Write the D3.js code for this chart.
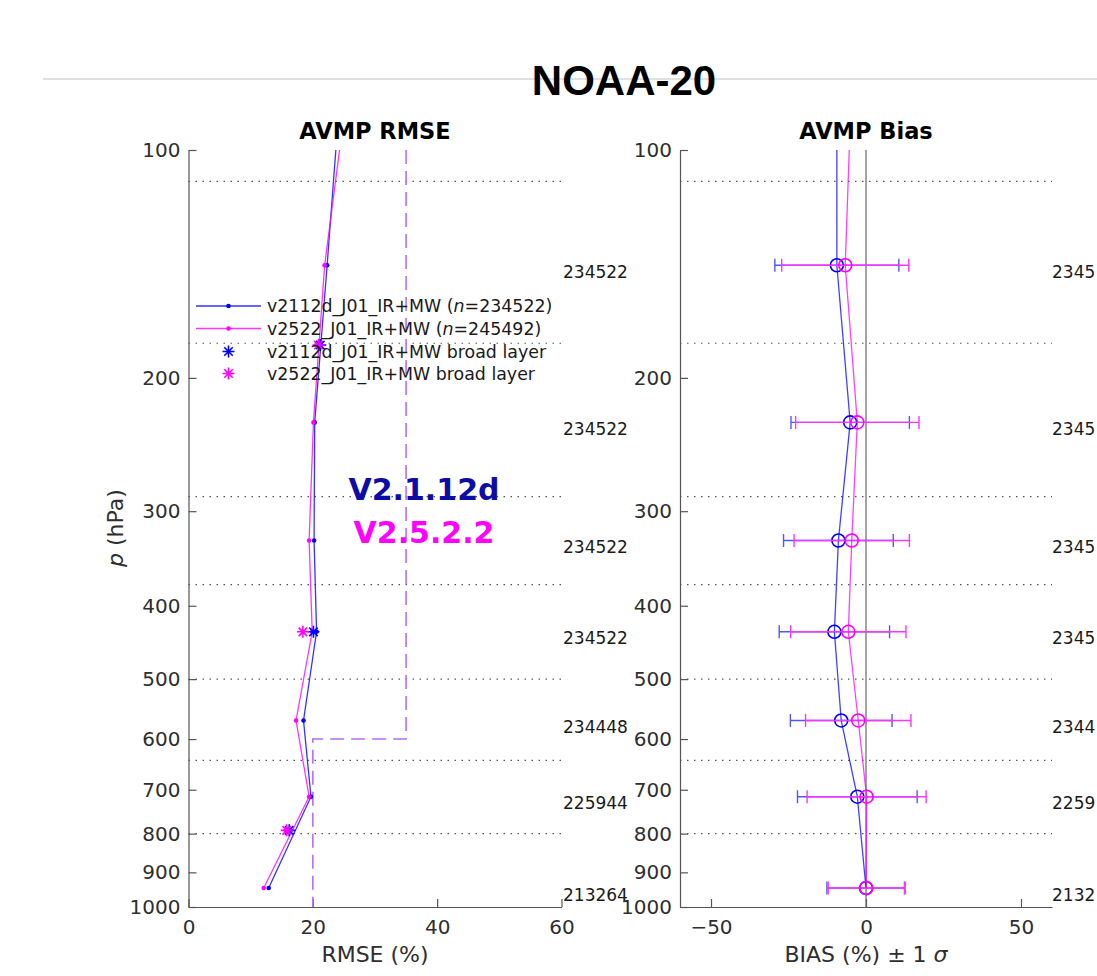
<!DOCTYPE html>
<html>
<head>
<meta charset="utf-8">
<script src="https://cdn.jsdelivr.net/npm/d3@7"></script>
<style>
  body { margin: 0; background: #fff; }
  svg { display: block; overflow: hidden; }
  .tick text { font-family: "DejaVu Sans", sans-serif; font-size: 20px; fill: #2e2e2e; }
  .tick line, .domain { stroke: #555; stroke-width: 1.2; }
</style>
</head>
<body>
<script>
//dims
const width = 1097, height = 976;

//layer centre pressures (hPa); first entry is the top of the drawn line, no marker there
const levels = [100, 142, 229, 328, 433, 567, 715, 944];
//rmse (%)
const rmseBlue = [23.7, 22.3, 20.3, 20.2, 20.6, 18.5, 19.7, 12.9];
const rmsePink = [24.3, 21.9, 20.1, 19.4, 19.9, 17.3, 19.4, 12.1];
//broad layer stars
const broadLevels = [181, 433, 792];
const broadBlue = [21.2, 20.1, 16.2];
const broadPink = [20.9, 18.4, 15.8];
//bias (%) and 1 sigma, right panel
const biasBlue = [-9.4, -9.4, -5.1, -8.9, -10.2, -8.0, -2.8, 0.0];
const biasPink = [-5.4, -6.7, -2.8, -4.6, -5.7, -2.5, 0.2, 0.1];
const sigmaBlue = [null, 20.0, 19.1, 17.7, 17.8, 16.4, 19.3, 12.6];
const sigmaPink = [null, 20.5, 19.9, 18.6, 18.6, 17.0, 19.2, 12.3];
//sample counts per layer (left panel) and the part of them visible at the right edge
const counts = [null, 234522, 234522, 234522, 234522, 234448, 225944, 213264];
const countsRight = [null, '2345', '2345', '2345', '2345', '2344', '2259', '2132'];
//layer boundaries (dotted lines)
const bounds = [110, 180, 287, 375, 500, 640, 800];
//requirement line (rmse, p)
const specLine = [[35, 100], [35, 600], [20, 600], [20, 1000]];
//ticks
const pTicks = [100, 200, 300, 400, 500, 600, 700, 800, 900, 1000];
const rmseTicks = [0, 20, 40, 60];
const biasTicks = [-50, 0, 50];
//legend
const legendNames = ['v2112d_J01_IR+MW', 'v2522_J01_IR+MW', 'v2112d_J01_IR+MW broad layer', 'v2522_J01_IR+MW broad layer'];
const legendN = [234522, 245492];

const BLUE = '#0000ff', PINK = '#ff00ff';

const svg = d3.select('body').append('svg')
    .attr('width', width)
    .attr('height', height);

//scales
const y = d3.scaleLog().domain([100, 1000]).range([150, 907]);
const xR = d3.scaleLinear().domain([0, 60]).range([188.5, 561.5]);
const xB = d3.scaleLinear().domain([-60, 60]).range([680, 1052]);

//slide style header
svg.append('line')
    .attr('x1', 43).attr('x2', width).attr('y1', 79).attr('y2', 79)
    .attr('stroke', '#c4c4c4').attr('stroke-width', 1.2);
svg.append('text')
    .attr('x', 624).attr('y', 95)
    .attr('text-anchor', 'middle')
    .style('font-family', '"Liberation Sans", Arial, sans-serif')
    .style('font-weight', 'bold').style('font-size', '42px')
    .text('NOAA-20');

// star marker (plus + cross)
function star(g, cx, cy, r, col) {
  const d = r * Math.SQRT1_2;
  g.append('path')
    .attr('d', `M${cx - r},${cy}H${cx + r}M${cx},${cy - r}V${cy + r}M${cx - d},${cy - d}L${cx + d},${cy + d}M${cx - d},${cy + d}L${cx + d},${cy - d}`)
    .attr('stroke', col).attr('stroke-width', 1.6).attr('fill', 'none');
}

//common panel furniture
function panel(x, title, ticks, fmt) {
  const g = svg.append('g');
  const [x0, x1] = x.range();
  //dotted layer boundaries
  g.selectAll('.bound').data(bounds).enter().append('line')
      .attr('x1', x0).attr('x2', x1)
      .attr('y1', d => y(d)).attr('y2', d => y(d))
      .attr('stroke', '#555').attr('stroke-width', 1.2)
      .attr('stroke-dasharray', '1.5,5.5');
  //axes, inward ticks like matlab
  g.append('g')
      .attr('transform', `translate(${x0},0)`)
      .call(d3.axisLeft(y).tickValues(pTicks).tickFormat(d3.format('d')).tickSize(-8).tickSizeOuter(0).tickPadding(8));
  g.append('g')
      .attr('transform', `translate(0,${y(1000)})`)
      .call(d3.axisBottom(x).tickValues(ticks).tickFormat(fmt).tickSize(-8).tickSizeOuter(0).tickPadding(13));
  g.append('text')
      .attr('x', (x0 + x1) / 2).attr('y', 139)
      .attr('text-anchor', 'middle')
      .style('font-family', '"DejaVu Sans", sans-serif')
      .style('font-weight', 'bold').style('font-size', '22.5px')
      .text(title);
  return g;
}

//---------------- RMSE panel
const gR = panel(xR, 'AVMP RMSE', rmseTicks, d3.format('d'));

gR.append('path')
    .datum(specLine)
    .attr('d', d3.line().x(d => xR(d[0])).y(d => y(d[1])))
    .attr('fill', 'none').attr('stroke', '#b46eff').attr('stroke-width', 1.6)
    .attr('stroke-dasharray', '14,7');

[[rmseBlue, BLUE], [rmsePink, PINK]].forEach(([vals, col]) => {
  gR.append('path')
      .datum(levels.map((p, i) => [vals[i], p]))
      .attr('d', d3.line().x(d => xR(d[0])).y(d => y(d[1])))
      .attr('fill', 'none').attr('stroke', col).attr('stroke-width', 1.3).attr('stroke-opacity', 0.8);
  gR.selectAll(null).data(levels.slice(1)).enter().append('circle')
      .attr('cx', (p, i) => xR(vals[i + 1])).attr('cy', p => y(p))
      .attr('r', 2.3).attr('fill', col);
});
[[broadBlue, BLUE], [broadPink, PINK]].forEach(([vals, col]) => {
  broadLevels.forEach((p, i) => star(gR, xR(vals[i]), y(p), 6, col));
});

//counts right of the panel
gR.selectAll('.cnt').data(levels.slice(1)).enter().append('text')
    .attr('x', 563).attr('y', p => y(p) + 12.5)
    .style('font-family', '"DejaVu Sans", sans-serif').style('font-size', '17px').attr('fill', '#1a1a1a')
    .text((p, i) => counts[i + 1]);

//axis labels
svg.append('text')
    .attr('x', 375).attr('y', 962)
    .attr('text-anchor', 'middle')
    .style('font-family', '"DejaVu Sans", sans-serif').style('font-size', '22px').attr('fill', '#2e2e2e')
    .text('RMSE (%)');
const yl = svg.append('text')
    .attr('transform', 'translate(123,528) rotate(-90)')
    .attr('text-anchor', 'middle')
    .style('font-family', '"DejaVu Sans", sans-serif').style('font-size', '22px').attr('fill', '#2e2e2e');
yl.append('tspan').style('font-style', 'italic').text('p');
yl.append('tspan').text(' (hPa)');

//legend
const leg = svg.append('g').style('font-family', '"DejaVu Sans", sans-serif').style('font-size', '17.4px');
const legY = [306, 328.5, 351.5, 373.5];
legendNames.forEach((name, i) => {
  const col = i % 2 === 0 ? BLUE : PINK;
  if (i < 2) {
    leg.append('line').attr('x1', 196).attr('x2', 261).attr('y1', legY[i]).attr('y2', legY[i])
        .attr('stroke', col).attr('stroke-width', 1.3).attr('stroke-opacity', 0.8);
    leg.append('circle').attr('cx', 228.5).attr('cy', legY[i]).attr('r', 2.3).attr('fill', col);
  } else {
    star(leg, 228.5, legY[i], 6, col);
  }
  const t = leg.append('text').attr('x', 267).attr('y', legY[i]).attr('dy', '0.36em').attr('fill', '#1a1a1a');
  if (i < 2) {
    t.append('tspan').text(name + ' (');
    t.append('tspan').style('font-style', 'italic').text('n');
    t.append('tspan').text('=' + legendN[i] + ')');
  } else {
    t.text(name);
  }
});

//version annotation
svg.append('text').attr('x', 424).attr('y', 500).attr('text-anchor', 'middle')
    .style('font-family', '"DejaVu Sans", sans-serif').style('font-weight', 'bold').style('font-size', '30px')
    .attr('fill', '#0c0ca6').text('V2.1.12d');
svg.append('text').attr('x', 424).attr('y', 543).attr('text-anchor', 'middle')
    .style('font-family', '"DejaVu Sans", sans-serif').style('font-weight', 'bold').style('font-size', '30px')
    .attr('fill', PINK).text('V2.5.2.2');

//---------------- Bias panel
const gB = panel(xB, 'AVMP Bias', biasTicks, d3.format('d'));
gB.append('line')
    .attr('x1', xB(0)).attr('x2', xB(0)).attr('y1', y(100)).attr('y2', y(1000))
    .attr('stroke', '#666').attr('stroke-width', 1.2);

[[biasBlue, sigmaBlue, BLUE, '#5555ff'], [biasPink, sigmaPink, PINK, '#ff33ff']].forEach(([vals, sig, col, ecol]) => {
  const pts = levels.slice(1).map((p, i) => ({ p, b: vals[i + 1], s: sig[i + 1] }));
  //error bars
  const eb = gB.selectAll(null).data(pts).enter().append('g')
      .attr('stroke', ecol).attr('stroke-width', 1.4);
  eb.append('line').attr('x1', d => xB(d.b - d.s)).attr('x2', d => xB(d.b + d.s))
      .attr('y1', d => y(d.p)).attr('y2', d => y(d.p));
  eb.append('line').attr('x1', d => xB(d.b - d.s)).attr('x2', d => xB(d.b - d.s))
      .attr('y1', d => y(d.p) - 6.5).attr('y2', d => y(d.p) + 6.5);
  eb.append('line').attr('x1', d => xB(d.b + d.s)).attr('x2', d => xB(d.b + d.s))
      .attr('y1', d => y(d.p) - 6.5).attr('y2', d => y(d.p) + 6.5);
  gB.append('path')
      .datum(levels.map((p, i) => [vals[i], p]))
      .attr('d', d3.line().x(d => xB(d[0])).y(d => y(d[1])))
      .attr('fill', 'none').attr('stroke', col).attr('stroke-width', 1.3).attr('stroke-opacity', 0.75);
  gB.selectAll(null).data(pts).enter().append('circle')
      .attr('cx', d => xB(d.b)).attr('cy', d => y(d.p))
      .attr('r', 6.5).attr('fill', 'none').attr('stroke', col).attr('stroke-width', 1.6);
});

//counts at the right edge (only their first digits fit on the page)
gB.selectAll('.cnt').data(levels.slice(1)).enter().append('text')
    .attr('x', 1052).attr('y', p => y(p) + 12.5)
    .style('font-family', '"DejaVu Sans", sans-serif').style('font-size', '17px').attr('fill', '#1a1a1a')
    .text((p, i) => countsRight[i + 1]);

const bl = svg.append('text')
    .attr('x', 866).attr('y', 962)
    .attr('text-anchor', 'middle')
    .style('font-family', '"DejaVu Sans", sans-serif').style('font-size', '22px').attr('fill', '#2e2e2e');
bl.append('tspan').text('BIAS (%) \u00b1 1 ');
bl.append('tspan').style('font-style', 'italic').text('\u03c3');
</script>
</body>
</html>
